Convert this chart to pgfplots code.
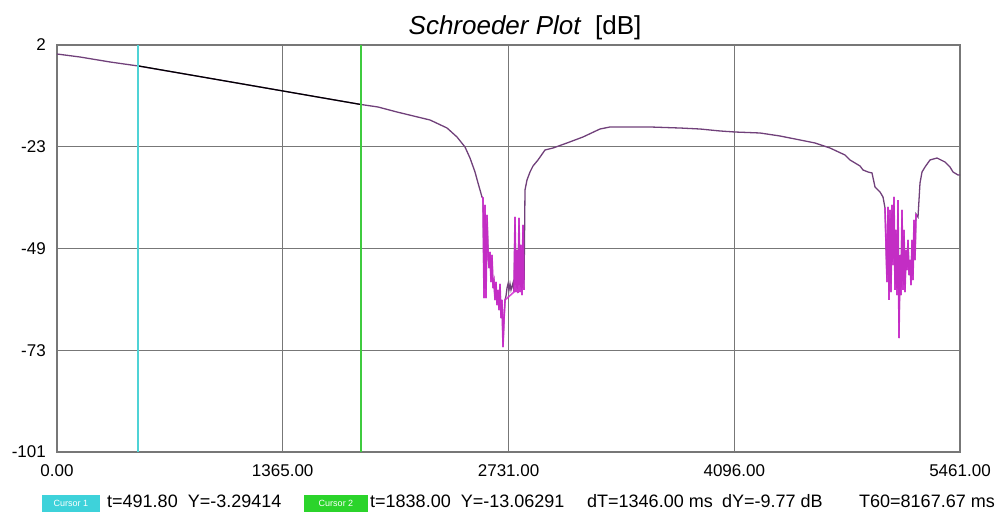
\documentclass[border=0pt]{standalone}
\usepackage{pgfplots}
\pgfplotsset{compat=1.18}
\usepackage{fontspec}
\setmainfont{Liberation Sans}
\definecolor{curve}{HTML}{70407A}
\definecolor{spike}{HTML}{D22AD2}
\definecolor{gridc}{HTML}{777777}
\definecolor{cyanc}{HTML}{4FD3D6}
\definecolor{greenc}{HTML}{3FCB3F}
\definecolor{boxcyan}{HTML}{3ED2DA}
\definecolor{boxgreen}{HTML}{2BD42B}
\begin{document}
\begin{tikzpicture}
\useasboundingbox (0,0) rectangle (997pt,513pt);
\begin{axis}[
  at={(57pt,61pt)}, anchor=south west,
  scale only axis, width=903pt, height=407pt,
  xmin=0, xmax=5461, ymin=-101, ymax=2,
  xtick={0,1365,2731,4096,5461},
  xticklabels={0.00,1365.00,2731.00,4096.00,5461.00},
  ytick={-101,-75.25,-49.5,-23.75,2},
  yticklabels={-101,-73,-49,-23,2},
  grid=major,
  major grid style={gridc, line width=1.3pt},
  axis line style={gridc, line width=1.3pt},
  major tick length=0pt,
  tick label style={font=\fontsize{17}{17}\selectfont},
  xticklabel style={inner sep=0pt, yshift=-12pt},
  yticklabel style={inner sep=0pt, xshift=-11pt},
  clip=true,
]
% full decay curve
\addplot[curve, line width=1.3pt] coordinates {
(0,-0.28) (139.1,-1.04) (320.5,-2.30) (489.9,-3.31) (864.8,-6.00) (1167.2,-8.19)
(1366.8,-9.64) (1590.5,-11.27) (1838.5,-13.06) (1941.3,-13.69) (2056.2,-14.96)
(2255.8,-16.98) (2358.6,-19.00) (2419.0,-21.28) (2467.4,-23.81) (2497.7,-26.60)
(2527.9,-30.14) (2546.1,-32.92) (2570.2,-36.47)
(2576.3,-36.72) (2582.3,-62.03) (2588.4,-38.49) (2594.4,-62.03) (2600.5,-41.02)
(2606.5,-49.88) (2612.6,-54.44) (2618.6,-50.39) (2624.7,-57.98) (2630.7,-51.15)
(2636.8,-59.50) (2642.8,-57.98) (2648.8,-62.53) (2654.9,-57.98) (2660.9,-63.80)
(2667.0,-60.00) (2673.0,-65.06) (2679.1,-58.48) (2685.1,-67.09) (2691.2,-62.53)
(2697.2,-74.43) (2703.3,-67.59) (2709.3,-62.53) (2715.4,-61.52) (2721.4,-59.50)
(2727.5,-58.48) (2733.5,-60.00) (2739.6,-58.48) (2745.6,-60.00) (2757.7,-58.23)
(2763.8,-60.51) (2769.8,-41.53) (2775.8,-60.51) (2781.9,-49.88) (2787.9,-60.76)
(2794.0,-41.78) (2800.0,-60.51) (2806.1,-48.61) (2812.1,-61.27) (2818.2,-43.55)
(2824.2,-60.00) (2830.3,-34.70)
(2842.4,-32.16) (2860.5,-30.14) (2878.7,-28.62) (2908.9,-27.10) (2951.2,-24.57)
(2999.6,-24.07) (3084.3,-22.80) (3181.0,-21.28) (3283.8,-19.26) (3344.3,-18.75)
(3465.3,-18.75) (3586.3,-18.75) (3767.7,-19.01) (3888.6,-19.26) (4009.6,-19.76)
(4100.3,-20.02) (4251.5,-20.27) (4372.4,-21.03) (4493.4,-22.04) (4584.1,-22.80)
(4674.8,-24.07) (4765.5,-25.84) (4795.7,-27.10) (4856.2,-28.62) (4874.4,-29.63)
(4904.6,-30.14) (4928.8,-30.39) (4947.0,-33.94) (4977.2,-35.20) (4995.3,-36.47)
(5007.4,-39.25)
(5013.5,-48.61) (5019.5,-57.98) (5025.6,-39.00) (5031.6,-62.53) (5037.6,-39.76)
(5043.7,-60.51) (5049.7,-38.49) (5055.8,-53.68) (5061.8,-36.47) (5067.9,-60.00)
(5073.9,-44.82) (5080.0,-61.27) (5086.0,-37.23) (5092.1,-72.15) (5098.1,-51.15)
(5104.2,-61.27) (5110.2,-39.76) (5116.3,-60.00) (5122.3,-44.82) (5128.4,-60.51)
(5134.4,-49.88) (5140.5,-54.94) (5146.5,-47.35) (5152.5,-56.21) (5158.6,-52.41)
(5164.6,-58.74) (5170.7,-47.35) (5176.7,-57.47) (5182.8,-42.29) (5188.8,-52.41)
(5194.9,-40.77)
(5207.0,-41.53) (5219.1,-32.92) (5231.2,-30.14) (5249.3,-28.88) (5279.6,-27.10)
(5321.9,-26.60) (5370.3,-27.61) (5400.5,-28.88) (5418.7,-30.14) (5448.9,-30.90)
(5461.0,-30.90)
};
% magenta spikes (first dip)
\addplot[spike, line width=1.6pt, opacity=0.85] coordinates {
(2570.2,-36.47)
(2576.3,-36.72) (2582.3,-62.03) (2588.4,-38.49) (2594.4,-62.03) (2600.5,-41.02)
(2606.5,-49.88) (2612.6,-54.44) (2618.6,-50.39) (2624.7,-57.98) (2630.7,-51.15)
(2636.8,-59.50) (2642.8,-57.98) (2648.8,-62.53) (2654.9,-57.98) (2660.9,-63.80)
(2667.0,-60.00) (2673.0,-65.06) (2679.1,-58.48) (2685.1,-67.09) (2691.2,-62.53)
(2697.2,-74.43) (2703.3,-67.59) (2709.3,-62.53)
(2763.8,-60.51) (2769.8,-41.53) (2775.8,-60.51) (2781.9,-49.88) (2787.9,-60.76)
(2794.0,-41.78) (2800.0,-60.51) (2806.1,-48.61) (2812.1,-61.27) (2818.2,-43.55)
(2824.2,-60.00)
};
% magenta spikes (second dip)
\addplot[spike, line width=1.6pt, opacity=0.85] coordinates {
(5007.4,-39.25)
(5013.5,-48.61) (5019.5,-57.98) (5025.6,-39.00) (5031.6,-62.53) (5037.6,-39.76)
(5043.7,-60.51) (5049.7,-38.49) (5055.8,-53.68) (5061.8,-36.47) (5067.9,-60.00)
(5073.9,-44.82) (5080.0,-61.27) (5086.0,-37.23) (5092.1,-72.15) (5098.1,-51.15)
(5104.2,-61.27) (5110.2,-39.76) (5116.3,-60.00) (5122.3,-44.82) (5128.4,-60.51)
(5134.4,-49.88) (5140.5,-54.94) (5146.5,-47.35) (5152.5,-56.21) (5158.6,-52.41)
(5164.6,-58.74) (5170.7,-47.35) (5176.7,-57.47) (5182.8,-42.29) (5188.8,-52.41)
(5194.9,-40.77)
};
% regression segment between cursors
\addplot[black, line width=1.2pt] coordinates {(491.8,-3.29) (1838,-13.06)};
% cursors
\addplot[cyanc, line width=1.8pt] coordinates {(491.8,-101) (491.8,2)};
\addplot[greenc, line width=1.8pt] coordinates {(1838,-101) (1838,2)};
\end{axis}
% title
\node[anchor=base, inner sep=0pt, font=\fontsize{26}{26}\selectfont] at (525pt,478pt) {\itshape Schroeder Plot\upshape\ \ [dB]};
% cursor readout
\fill[boxcyan] (42pt,1pt) rectangle (100pt,18pt);
\node[white, inner sep=0pt, font=\fontsize{9}{9}\selectfont] at (71pt,9.5pt) {Cursor 1};
\fill[boxgreen] (304pt,1pt) rectangle (368pt,18pt);
\node[white, inner sep=0pt, font=\fontsize{9}{9}\selectfont] at (336pt,9.5pt) {Cursor 2};
\begin{scope}[every node/.style={anchor=base west, inner sep=0pt, font=\fontsize{18}{18}\selectfont}]
\node at (107pt,5pt) {t=491.80\ \ Y=-3.29414};
\node at (370pt,5pt) {t=1838.00\ \ Y=-13.06291};
\node at (587pt,5pt) {dT=1346.00 ms};
\node at (722pt,5pt) {dY=-9.77 dB};
\node at (859pt,5pt) {T60=8167.67 ms};
\end{scope}
\end{tikzpicture}
\end{document}
